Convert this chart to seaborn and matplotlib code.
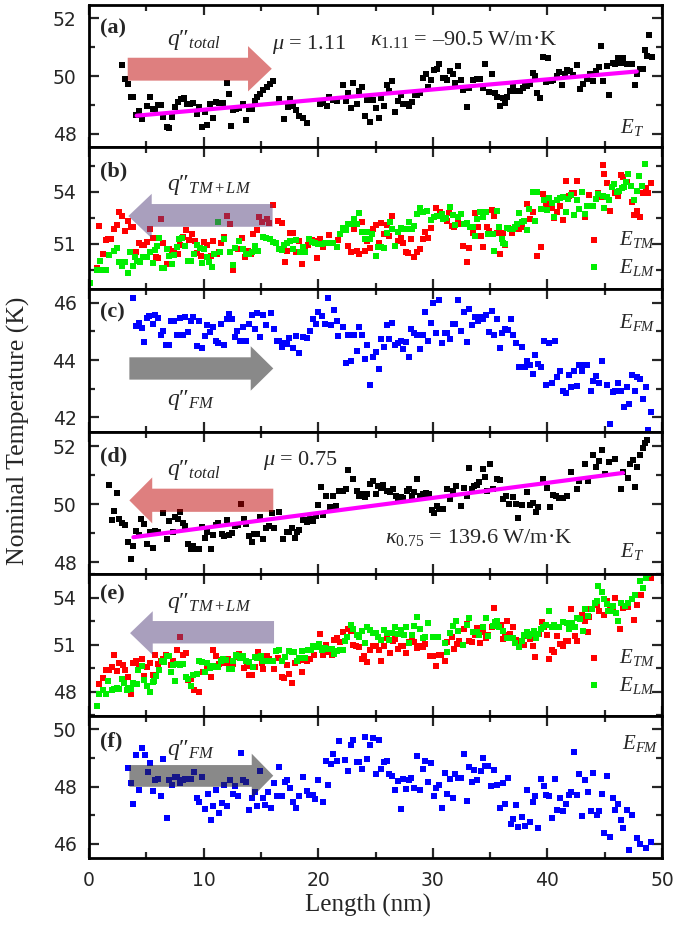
import matplotlib
matplotlib.use("Agg")
import matplotlib.pyplot as plt
from matplotlib.patches import Polygon
from matplotlib.ticker import MultipleLocator
import seaborn as sns

# ---------------------------------------------------------------- data
# (a) total energy, mu = 1.11
a_len = [2.91, 3.14, 3.40, 3.64, 3.87, 4.07, 4.33, 4.62, 5.03, 5.32, 5.56, 5.79, 6.02, 6.28, 6.49, 6.78, 7.01, 7.21, 7.48, 7.74,
         8.00, 8.29, 8.52, 8.81, 9.10, 9.39, 9.63, 9.83, 10.09, 10.33, 10.56, 10.85, 11.08, 11.37, 11.66, 12.01, 12.25, 12.42, 12.59, 12.83,
         13.06, 13.47, 13.70, 13.93, 14.19, 14.46, 14.69, 14.92, 15.21, 15.50, 15.79, 16.08, 16.61, 17.05, 17.39, 17.54, 17.77, 18.06, 18.35, 18.70,
         18.99, 20.16, 20.45, 20.74, 20.97, 21.32, 21.61,
         22.19, 22.43, 22.63, 22.83, 23.07, 23.36, 23.59, 23.79, 24.08, 24.29, 24.52, 24.75, 25.04, 25.28, 25.45, 25.74, 25.97, 26.21, 26.44, 26.70,
         26.99, 27.20, 27.43, 27.72, 27.95, 28.16, 28.45, 28.65, 28.88, 29.17, 29.38, 29.61, 29.82, 30.11, 30.34, 30.57, 30.86, 31.06, 31.27, 31.50,
         31.73, 31.97, 32.23, 32.43, 32.66, 32.96, 33.19, 33.54, 33.83, 34.12, 34.35, 34.55, 34.87, 35.14, 35.43, 35.63, 35.86, 36.10, 36.27, 36.50,
         36.74, 36.97, 37.17, 37.38, 37.61, 37.84, 38.05, 38.25, 38.48, 38.71, 38.95, 39.12, 39.35, 39.64, 39.88, 40.08, 40.28, 40.52, 40.81, 41.04,
         41.24, 41.54, 41.74, 41.97, 42.26, 42.55, 42.84, 43.14, 43.43, 43.72, 43.95, 44.24, 44.53, 44.65, 44.88, 45.17, 45.40, 45.69, 45.93, 46.16,
         46.39, 46.63, 46.92, 47.15, 47.38, 47.65, 47.79, 48.08, 48.32, 48.55, 48.72, 48.90, 49.10]
a_temp = [50.40, 49.90, 49.71, 49.29, 49.29, 48.67, 48.78, 48.52, 48.95, 49.29, 48.85, 48.85, 49.00, 49.00, 48.57, 48.23, 48.19, 48.60, 48.92, 49.10,
          49.19, 49.24, 49.04, 49.04, 49.06, 48.69, 48.92, 48.23, 48.74, 48.32, 49.02, 48.54, 49.10, 49.06, 49.06, 49.76, 49.39, 48.26, 48.81, 48.86,
          48.90, 49.04, 48.48, 48.85, 48.86, 49.15, 49.27, 49.39, 49.53, 49.62, 49.74, 49.82, 49.22, 48.52, 48.92, 49.20, 48.95, 48.81, 48.63, 48.54,
          48.36, 49.04, 49.06, 48.98, 49.29, 49.18, 49.15,
          49.68, 49.15, 49.41, 48.90, 49.76, 49.02, 49.48, 49.62, 48.63, 49.18, 48.40, 49.18, 48.90, 48.55, 49.25, 48.95, 49.68, 49.50, 49.83, 48.75,
          49.15, 49.33, 49.04, 49.02, 48.95, 49.10, 49.35, 49.36, 49.41, 49.94, 50.08, 49.62, 49.85, 50.22, 50.26, 50.41, 49.94, 49.94, 49.85, 50.18,
          50.06, 49.76, 50.34, 49.85, 49.53, 48.92, 49.60, 49.87, 49.91, 49.91, 49.60, 50.41, 49.44, 50.08, 49.41, 49.27, 48.95, 49.25, 49.07, 49.29,
          49.48, 49.64, 49.50, 49.50, 49.48, 49.60, 49.68, 49.64, 49.74, 50.11, 49.99, 49.41, 49.24, 50.66, 49.79, 50.64, 49.82, 49.87, 49.99, 50.14,
          49.68, 50.08, 50.22, 50.18, 50.03, 50.37, 49.56, 49.71, 49.91, 50.06, 49.83, 50.17, 50.32, 51.04, 49.83, 50.34, 49.36, 50.46, 50.41, 50.61,
          50.46, 50.61, 50.43, 50.43, 50.43, 49.68, 50.08, 50.26, 50.26, 50.92, 50.69, 51.42, 50.66]
fit_a_len = [4.16, 47.80]
fit_a_temp = [48.63, 50.16]

# (b) transverse / longitudinal modes, mu = 1.11
b_len_tm = [0.73, 0.90, 1.19, 1.48, 1.69, 1.92, 2.18, 2.41, 2.62, 2.85, 3.14, 3.37, 3.64, 3.87, 4.10, 4.39, 4.60, 4.80, 5.09, 5.32,
            5.56, 5.85, 6.05, 6.28, 6.49, 6.78, 7.01, 7.21, 7.45, 7.74, 7.94, 8.17, 8.46, 8.70, 8.96, 9.25, 9.45, 9.74, 10.03, 10.27,
            10.62, 10.85, 11.14, 11.37, 11.55, 11.78, 12.01, 12.30, 12.54, 12.74, 13.03, 13.32, 13.61, 13.90, 14.14, 14.34, 14.63, 14.86, 15.07, 15.50,
            15.74, 16.08, 16.52, 16.81, 17.10, 17.31, 17.54, 17.83, 18.06, 18.35, 18.56, 18.85, 19.14, 19.43, 19.72, 19.92, 20.16, 20.45, 20.97,
            21.76, 22.63, 22.83, 23.12, 23.36, 23.59, 23.79, 24.08, 24.29, 24.52, 24.75, 25.04, 25.33, 25.45, 25.74, 25.97, 26.21, 26.41, 26.70, 26.99,
            27.20, 27.37, 27.66, 27.86, 28.10, 28.36, 28.65, 28.88, 29.17, 29.32, 29.61, 29.81, 30.28, 30.63, 30.92, 31.21, 31.44, 31.65, 31.85, 32.23,
            32.37, 32.66, 32.96, 33.19, 33.48, 33.68, 33.97, 34.18, 34.41, 34.70, 34.93, 35.14, 35.34, 35.57, 35.86, 36.10, 36.30, 36.59, 36.88, 37.03,
            37.26, 37.55, 37.75, 38.19, 38.48, 38.77, 39.12, 39.41, 39.64, 39.88, 40.17, 40.37, 40.58, 40.81, 41.10, 41.33, 41.62, 41.91, 42.12, 42.32,
            42.55, 43.28, 43.66, 44.45, 44.65, 44.82, 44.94, 45.17, 45.46, 45.90, 46.19, 46.39, 46.57, 46.92, 47.35, 47.56, 47.79, 48.08, 48.31, 48.60,
            48.81, 49.01]
b_temp_tm = [49.60, 52.01, 50.39, 51.21, 51.25, 51.25, 51.82, 52.05, 52.80, 52.61, 51.72, 52.29, 51.97, 51.97, 50.53, 51.02, 50.91, 50.91, 51.10, 51.82,
             51.34, 50.20, 50.15, 52.44, 51.02, 49.83, 50.68, 50.34, 50.57, 50.39, 50.91, 51.40, 51.78, 51.21, 51.53, 51.15, 50.45, 50.26, 51.10, 50.91,
             50.26, 51.15, 50.39, 50.49, 51.02, 51.36, 52.61, 52.10, 49.45, 50.77, 50.68, 51.34, 50.20, 50.58, 50.39, 51.53, 51.78, 52.54, 52.24, 52.42,
             52.20, 53.22, 52.29, 52.20, 49.96, 50.58, 51.63, 51.59, 50.49, 51.15, 49.83, 50.64, 50.91, 51.21, 51.15, 50.15, 51.25, 50.83, 51.48,
             51.21, 50.87, 50.49, 51.86, 50.58, 50.39, 52.24, 50.58, 51.15, 50.72, 51.86, 52.05, 51.02, 52.20, 51.53, 52.05, 51.44, 52.58, 50.87, 51.15,
             51.34, 51.02, 50.49, 50.45, 51.29, 50.20, 50.53, 50.68, 51.29, 51.67, 51.34, 51.91, 53.05, 52.80, 52.42, 52.29, 52.77, 52.01, 51.97, 52.35,
             52.10, 50.87, 49.92, 50.72, 51.59, 52.77, 51.97, 51.44, 50.83, 51.97, 51.72, 52.92, 52.61, 51.59, 50.39, 51.59, 50.91, 51.91, 51.59, 51.86,
             51.86, 51.82, 51.97, 53.30, 52.39, 52.80, 50.30, 50.83, 53.87, 53.30, 53.05, 53.05, 52.48, 52.80, 53.18, 52.35, 54.63, 53.75, 53.91, 53.91,
             54.63, 52.54, 53.81, 53.91, 53.68, 55.52, 55.04, 54.51, 52.88, 53.91, 53.75, 54.95, 54.82, 54.57, 53.37, 52.67, 52.86, 52.54, 53.91, 54.19,
             53.91, 54.47]
b_len_lm = [0.09, 0.73, 0.96, 1.25, 1.48, 1.77, 2.18, 2.47, 2.65, 2.85, 3.14, 3.37, 3.58, 3.81, 4.01, 4.22, 4.45, 4.68, 4.89, 5.09,
            5.32, 5.56, 5.76, 5.90, 6.14, 6.34, 6.54, 6.78, 7.01, 7.21, 7.45, 7.65, 7.88, 8.09, 8.38, 8.67, 8.87, 9.16, 9.39, 9.69,
            9.83, 10.03, 10.33, 10.50, 10.70, 10.91, 11.29, 11.43, 11.78, 12.30, 12.54, 12.74, 13.12, 13.41, 13.70, 13.99, 14.19, 14.49, 14.78, 15.21,
            15.45, 15.79, 16.03, 16.32, 16.61, 16.81, 17.02, 17.31, 17.54, 17.83, 18.06, 18.41, 18.64, 18.85, 19.23, 19.43, 19.72, 20.01, 20.30, 20.59,
            21.03, 21.26, 21.67, 21.90, 22.19, 22.43, 22.63, 22.92, 23.12, 23.42, 23.59, 23.79, 24.08, 24.29, 24.52, 24.67, 25.04, 25.25, 25.45, 25.74,
            26.03, 26.26, 26.41, 26.70, 26.99, 27.20, 27.43, 27.66, 27.95, 28.16, 28.36, 28.65, 28.88, 29.17, 29.52, 29.81, 30.10, 30.34, 30.77, 30.92,
            31.15, 31.50, 31.73, 31.97, 32.23, 32.43, 32.72, 33.01, 33.25, 33.54, 33.68, 33.89, 34.12, 34.35, 34.64, 34.85, 35.00, 35.22, 35.34, 35.57,
            35.81, 36.01, 36.16, 36.30, 36.51, 36.74, 36.97, 37.17, 37.32, 37.55, 37.75, 37.96, 38.19, 38.42, 38.71, 38.92, 39.12, 39.41, 39.70, 39.94,
            40.17, 40.37, 40.58, 40.81, 41.10, 41.33, 41.62, 41.83, 42.03, 42.32, 42.55, 42.79, 42.99, 43.31, 43.48, 43.72, 44.01, 44.24, 44.45, 44.82,
            44.94, 45.17, 45.40, 45.61, 45.81, 46.04, 46.28, 46.48, 46.68, 46.86, 47.06, 47.27, 47.56, 47.79, 48.02, 48.25, 48.51]
b_temp_lm = [48.74, 49.45, 50.02, 49.50, 49.45, 50.34, 50.58, 50.72, 49.92, 49.73, 49.92, 49.31, 50.53, 49.69, 50.20, 50.02, 49.96, 50.20, 50.20, 50.20,
             50.49, 49.88, 50.64, 50.87, 51.34, 49.58, 49.58, 50.68, 50.30, 49.83, 50.34, 50.83, 51.25, 51.34, 50.87, 50.02, 50.02, 50.39, 50.91, 50.72,
             49.88, 50.68, 50.20, 49.92, 49.64, 50.39, 52.24, 50.49, 51.25, 50.49, 49.77, 50.77, 51.15, 50.68, 50.39, 50.39, 50.53, 50.87, 50.58, 51.40,
             51.34, 51.25, 51.10, 51.02, 50.68, 50.64, 50.91, 51.02, 51.15, 50.68, 51.21, 50.49, 50.83, 50.49, 51.29, 51.10, 51.02, 50.96, 50.96, 51.06,
             51.02, 51.06, 50.83, 51.53, 51.91, 51.78, 52.10, 52.10, 52.42, 52.10, 52.77, 51.67, 51.29, 51.67, 51.29, 51.53, 50.30, 50.83, 50.83, 50.72,
             51.59, 52.24, 51.86, 50.87, 51.67, 51.91, 51.86, 51.86, 52.24, 51.86, 52.01, 52.73, 53.05, 52.80, 52.86, 52.35, 52.54, 52.61, 52.73, 52.42,
             52.48, 53.11, 52.67, 52.05, 52.54, 52.73, 52.10, 52.20, 51.97, 51.97, 51.44, 52.39, 52.80, 52.54, 52.80, 51.57, 51.53, 51.53, 50.58, 52.86,
             51.97, 51.29, 51.06, 50.96, 51.91, 51.82, 51.86, 51.97, 52.10, 52.77, 52.24, 52.29, 51.78, 52.99, 53.96, 52.29, 53.96, 52.99, 53.49, 52.96,
             53.62, 53.34, 52.54, 53.53, 53.62, 53.68, 52.80, 53.56, 53.81, 52.67, 53.49, 52.99, 53.96, 52.73, 53.15, 53.18, 53.15, 53.56, 53.87, 53.75,
             53.05, 53.68, 53.53, 54.28, 54.44, 54.00, 54.06, 54.19, 54.25, 54.57, 55.01, 54.32, 53.53, 54.06, 54.89, 54.34, 55.61]

# (c) flexural mode, mu = 1.11
c_len = [3.87, 4.07, 4.33, 4.62, 4.80, 5.03, 5.26, 5.56, 5.79, 6.02, 6.25, 6.49, 6.72, 6.95, 7.18, 7.42, 7.65, 7.94, 8.17, 8.38,
         8.67, 8.87, 9.10, 9.39, 9.63, 9.83, 10.09, 10.33, 10.56, 10.85, 11.08, 11.29, 11.55, 11.78, 12.01, 12.25, 12.45, 12.74, 12.94, 13.18,
         13.41, 13.70, 13.99, 14.19, 14.49, 14.69, 14.92, 15.21, 15.45, 15.85, 16.14, 16.38, 16.61, 16.84, 17.02, 17.25, 17.48, 17.77, 18.06, 18.35,
         18.70, 18.99, 19.28, 19.58, 19.81, 20.01, 20.30, 20.59, 20.88, 21.09, 21.38, 21.76,
         21.61, 22.13, 22.43, 22.63, 22.83, 23.12, 23.36, 23.59, 23.79, 24.08, 24.29, 24.52, 24.75, 25.04, 25.28, 25.45, 25.74, 25.97, 26.21, 26.44,
         26.70, 26.99, 27.20, 27.43, 27.66, 27.89, 28.10, 28.36, 28.59, 28.88, 29.11, 29.32, 29.58, 29.81, 30.04, 30.28, 30.51, 30.80, 31.03, 31.27,
         31.50, 31.73, 31.97, 32.20, 32.43, 32.72, 32.96, 33.19, 33.42, 33.65, 33.94, 34.18, 34.41, 34.64, 34.87, 35.13, 35.34, 35.57, 35.86, 36.04,
         36.27, 36.56, 36.80, 37.03, 37.26, 37.49, 37.75, 38.01, 38.25, 38.48, 38.71, 38.95, 39.18, 39.41, 39.70, 39.88, 40.14, 40.40, 40.64, 40.87,
         41.10, 41.33, 41.62, 41.86, 42.09, 42.32, 42.55, 42.79, 43.02, 43.25, 43.48, 43.78, 44.01, 44.21, 44.50, 44.74, 45.20, 45.46, 45.70, 45.90,
         46.16, 46.42, 46.69, 46.92, 47.12, 47.38, 47.61, 47.85, 48.08, 48.31, 48.60, 48.81, 49.04]
c_temp = [46.17, 45.18, 45.30, 45.13, 44.64, 45.48, 45.53, 45.27, 45.57, 45.48, 44.87, 45.01, 44.54, 44.51, 45.38, 45.38, 44.89, 45.48, 44.87, 45.50,
          44.97, 45.36, 45.50, 44.48, 45.36, 44.43, 44.83, 45.24, 44.99, 45.15, 44.66, 44.60, 45.27, 44.52, 45.42, 45.62, 45.42, 44.80, 45.01, 44.68,
          45.15, 44.68, 45.27, 45.57, 45.09, 45.65, 44.80, 45.57, 45.24, 45.65, 45.10, 44.68, 44.68, 44.45, 44.60, 44.57, 44.78, 44.43, 44.83, 44.25,
          44.80, 44.78, 45.01, 45.42, 45.27, 45.69, 45.55, 45.27, 46.15, 45.22, 45.74, 44.83,
          45.38, 45.15, 43.89, 44.89, 43.96, 44.89, 44.31, 45.15, 44.89, 44.02, 44.54, 43.14, 44.10, 44.28, 43.69, 44.72, 44.45, 45.24, 44.75, 45.29,
          44.54, 44.60, 44.66, 44.37, 44.64, 44.10, 45.07, 44.93, 44.86, 44.40, 44.89, 45.67, 44.66, 45.29, 45.98, 44.94, 46.09, 44.58, 44.94, 44.94,
          44.73, 45.25, 45.25, 46.09, 45.01, 45.67, 44.62, 45.80, 45.22, 45.50, 45.36, 45.52, 45.43, 45.57, 44.97, 45.71, 44.89, 45.45, 44.41, 44.94,
          45.08, 45.06, 45.45, 44.89, 44.58, 43.77, 44.47, 43.77, 43.96, 43.84, 43.51, 44.17, 43.87, 43.75, 44.66, 43.12, 44.61, 43.21, 44.66, 43.40,
          43.61, 42.91, 42.86, 43.47, 43.05, 43.61, 43.09, 43.82, 43.61, 43.82, 43.82, 42.93, 43.26, 43.44, 43.19, 43.98, 43.14, 41.75, 42.89, 42.93,
          43.18, 42.93, 42.35, 43.05, 42.45, 43.47, 42.91, 43.40, 43.32, 42.63, 43.05, 41.57, 42.19]

# (d) total energy, mu = 0.75
d_len = [1.75, 1.98, 2.18, 2.41, 2.65, 2.88, 3.14, 3.37, 3.64, 3.87, 4.10, 4.33, 4.57, 4.80, 5.09, 5.32, 5.56, 5.79, 6.02, 6.49,
         6.78, 7.01, 7.30, 7.53, 7.77, 7.94, 8.17, 8.41, 8.64, 8.87, 9.10, 9.39, 9.63, 9.86, 10.09, 10.33, 10.62, 10.85, 11.08, 11.29,
         11.58, 11.78, 12.01, 12.25, 12.48, 12.77, 13.00, 13.23, 13.53, 13.70, 13.93, 14.19, 14.40, 14.63, 14.92, 15.15, 15.45, 15.68, 15.94, 16.14,
         16.61, 16.96, 17.25, 17.48, 17.71, 17.98, 18.12, 18.35, 18.64, 18.85, 19.05, 19.28, 19.52, 19.81, 20.01, 20.22, 20.45, 20.68, 21.03, 21.32,
         21.55, 21.84,
         22.19, 22.43, 22.63, 23.07, 23.36, 23.59, 23.79, 24.08, 24.29, 24.52, 24.75, 25.04, 25.25, 25.45, 25.68, 25.97, 26.26, 26.50, 26.79, 26.99,
         27.20, 27.43, 27.72, 27.95, 28.16, 28.36, 28.59, 28.88, 29.17, 29.41, 29.64, 29.93, 30.10, 30.34, 30.57, 30.86, 31.21, 31.50, 31.73, 32.02,
         32.43, 32.72, 32.96, 33.19, 33.39, 33.60, 33.83, 34.06, 34.35, 34.52, 34.76, 34.99, 35.28, 35.57, 35.86, 36.15, 36.39, 36.68, 37.03, 37.26,
         37.46, 37.75, 38.19, 38.48, 38.71, 39.00, 39.21, 39.64, 39.94, 40.23, 40.52, 40.75, 41.04, 41.39, 41.68, 42.03, 42.55, 42.79, 43.28, 43.57,
         44.01, 44.24, 44.53, 44.74, 45.03, 45.41, 45.90, 46.39, 46.63, 47.06, 47.21, 47.44, 47.64, 47.79, 48.08, 48.31, 48.51, 48.72]
d_temp = [50.67, 49.45, 49.77, 50.39, 49.50, 49.34, 49.27, 48.71, 48.09, 48.56, 49.07, 48.95, 49.50, 49.30, 48.63, 49.03, 48.48, 49.07, 49.03, 49.69,
          48.80, 49.42, 49.03, 49.57, 49.48, 49.73, 49.36, 49.24, 48.63, 48.44, 48.56, 48.44, 48.44, 49.22, 48.83, 49.03, 48.44, 48.95, 49.27, 49.34,
          48.98, 48.91, 49.45, 48.95, 49.01, 49.24, 49.27, 49.99, 49.50, 49.30, 48.89, 48.71, 48.98, 48.98, 49.57, 48.80, 49.18, 49.24, 49.69, 49.18,
          49.73, 48.80, 49.03, 49.03, 49.18, 48.83, 49.03, 49.10, 49.45, 49.45, 49.38, 49.48, 49.42, 49.59, 49.97, 50.59, 49.62, 50.27, 49.92, 50.30,
          49.95, 50.47,
          50.44, 50.51, 51.18, 50.88, 50.47, 50.30, 50.36, 50.24, 50.36, 50.71, 50.79, 50.36, 50.63, 50.56, 50.65, 50.47, 50.42, 50.51, 50.27, 50.20,
          50.24, 50.20, 50.47, 50.53, 50.27, 50.42, 50.88, 50.30, 50.36, 50.39, 50.36, 49.81, 49.69, 49.95, 49.83, 49.83, 50.51, 50.18, 50.47, 50.63,
          49.95, 50.56, 50.27, 51.24, 50.53, 50.63, 50.67, 50.77, 51.21, 50.94, 50.47, 51.38, 50.53, 50.88, 50.83, 50.18, 50.27, 50.00, 50.24, 50.00,
          49.54, 49.97, 50.42, 49.97, 50.04, 49.73, 49.89, 50.86, 50.56, 49.89, 50.32, 50.27, 50.20, 50.20, 50.27, 51.10, 50.53, 50.79, 51.38, 50.79,
          51.71, 51.30, 51.50, 51.88, 51.03, 51.45, 51.57, 50.51, 51.12, 50.91, 51.38, 51.53, 50.59, 51.30, 51.71, 51.94, 52.12, 52.23]
fit_d_len = [3.87, 46.60]
fit_d_temp = [48.86, 51.08]

# (e) transverse / longitudinal modes, mu = 0.75
e_len_tm = [0.90, 1.19, 1.48, 1.77, 1.98, 2.18, 2.41, 2.65, 2.94, 3.14, 3.43, 3.64, 3.87, 4.10, 4.39, 4.60, 4.80, 5.03, 5.32, 5.56,
            5.76, 6.05, 6.25, 6.49, 6.72, 6.95, 7.13, 7.36, 7.65, 7.94, 8.17, 8.46, 8.67, 8.90, 9.16, 9.63, 9.98, 10.33, 10.62, 10.79,
            11.08, 11.37, 11.58, 11.87, 12.16, 12.39, 12.59, 12.89, 13.12, 13.32, 13.53, 13.76, 13.99, 14.19, 14.49, 14.78, 15.07, 15.21, 15.50, 15.74,
            15.94, 16.14, 16.52, 16.81, 17.02, 17.25, 17.48, 17.68, 17.98, 18.27, 18.56, 18.76, 19.05, 19.28, 19.63, 19.87, 20.16, 20.39, 20.68, 20.97,
            21.18, 21.38, 21.67, 21.90, 22.19, 22.63, 22.83, 23.07, 23.30, 23.59, 23.79, 24.00, 24.23, 24.52, 24.75, 25.04, 25.33, 25.45, 25.74, 26.03,
            26.26, 26.50, 26.70, 26.99, 27.20, 27.43, 27.66, 27.95, 28.16, 28.36, 28.65, 28.88, 29.11, 29.32, 29.76, 29.99, 30.28, 30.51, 30.69, 31.06,
            31.27, 31.65, 31.85, 32.08, 32.32, 32.61, 32.72, 32.96, 33.19, 33.39, 33.68, 33.89, 34.12, 34.35, 34.64, 34.85, 35.14, 35.34, 35.57, 35.92,
            36.16, 36.30, 36.51, 36.74, 37.03, 37.26, 37.46, 37.75, 37.96, 38.19, 38.48, 38.77, 38.92, 39.30, 39.50, 39.70, 39.94, 40.11, 40.37, 40.58,
            40.87, 41.10, 41.33, 41.62, 41.83, 42.03, 42.41, 42.61, 42.99, 43.28, 43.51, 43.66, 43.83, 44.30, 44.53, 44.94, 45.17, 45.46, 45.75, 45.90,
            46.33, 46.63, 47.06, 47.56, 47.79, 48.14, 48.60, 49.01]
e_temp_tm = [48.46, 48.88, 49.35, 49.39, 49.56, 50.36, 49.31, 49.81, 49.67, 49.35, 48.93, 47.87, 49.81, 49.94, 49.60, 50.09, 48.97, 49.56, 49.81, 49.03,
             50.36, 49.77, 49.98, 50.09, 50.36, 50.24, 49.67, 49.98, 50.62, 51.46, 50.36, 50.45, 48.76, 48.82, 48.08, 47.97, 49.24, 49.52, 48.93, 50.62,
             50.30, 49.77, 50.03, 49.81, 50.09, 49.81, 49.73, 50.19, 50.41, 50.19, 49.52, 49.60, 49.03, 49.03, 49.56, 50.51, 49.81, 49.45, 50.30, 50.09,
             49.94, 49.45, 50.15, 48.93, 48.88, 49.67, 49.10, 48.55, 49.81, 49.98, 49.24, 50.03, 49.94, 50.09, 50.36, 50.93, 51.67, 50.36, 51.00, 50.51,
             50.36, 51.29, 51.42, 51.15, 51.78, 51.99, 51.89, 51.00, 50.93, 50.83, 50.09, 50.30, 49.88, 50.66, 50.93, 50.93, 50.66, 49.94, 50.93, 51.42,
             50.45, 51.25, 51.36, 50.72, 50.93, 50.93, 50.45, 51.15, 51.29, 51.19, 50.79, 50.93, 50.87, 51.04, 50.30, 50.30, 49.60, 50.36, 50.36, 49.98,
             51.15, 51.51, 50.72, 51.04, 51.21, 51.00, 51.99, 52.31, 51.21, 51.15, 51.63, 52.05, 51.08, 51.78, 51.42, 51.63, 52.14, 53.32, 52.20, 52.27,
             51.36, 51.63, 52.48, 51.67, 52.10, 51.29, 51.15, 51.21, 51.00, 51.57, 51.36, 50.93, 50.19, 51.67, 52.41, 52.10, 51.63, 50.09, 50.66, 50.51,
             51.57, 51.04, 50.93, 51.21, 51.21, 53.26, 51.57, 51.21, 52.90, 52.52, 51.78, 52.73, 53.26, 53.53, 53.15, 52.90, 53.79, 53.20, 53.41, 53.96,
             51.99, 53.32, 53.37, 52.56, 53.53, 54.17, 55.31, 55.27]
e_len_lm = [0.73, 0.90, 1.19, 1.48, 1.69, 1.98, 2.18, 2.41, 2.65, 2.85, 3.05, 3.29, 3.43, 3.64, 3.87, 4.16, 4.30, 4.60, 4.80, 5.03,
            5.32, 5.56, 5.67, 5.85, 6.14, 6.34, 6.54, 6.78, 6.95, 7.13, 7.36, 7.50, 7.71, 7.94, 8.17, 8.46, 8.67, 8.87, 9.10, 9.39,
            9.63, 9.83, 10.12, 10.33, 10.56, 10.79, 11.08, 11.29, 11.49, 11.72, 11.95, 12.25, 12.45, 12.59, 12.83, 13.03, 13.18, 13.47, 13.70, 13.99,
            14.28, 14.49, 14.69, 14.98, 15.21, 15.45, 15.74, 16.03, 16.32, 16.55, 16.81, 17.10, 17.48, 17.68, 17.89, 18.12, 18.35, 18.59, 18.85, 19.14,
            19.34, 19.58, 19.81, 20.10, 20.30, 20.59, 20.88,
            21.18, 21.38, 21.61, 21.90, 22.19, 22.34, 22.54, 22.83, 23.07, 23.36, 23.59, 23.79, 24.08, 24.29, 24.52, 24.81, 25.04, 25.25, 25.45, 25.74,
            26.03, 26.21, 26.41, 26.70, 26.99, 27.20, 27.49, 27.66, 27.95, 28.16, 28.36, 28.65, 28.88, 29.17, 29.32, 29.61, 29.99, 30.28, 30.48, 31.06,
            31.21, 31.50, 31.73, 32.02, 32.23, 32.66, 32.96, 33.19, 33.54, 33.83, 34.06, 34.35, 34.64, 34.85, 35.22, 35.43, 35.63, 35.81, 36.16, 36.45,
            36.68, 36.97, 37.17, 37.55, 37.75, 37.96, 38.19, 38.42, 38.63, 38.83, 39.00, 39.21, 39.41, 39.64, 39.88, 40.11, 40.37, 40.58, 40.81, 41.04,
            41.33, 41.68, 41.91, 42.12, 42.41, 42.55, 42.84, 43.08, 43.28, 43.57, 43.86, 44.15, 44.30, 44.45, 44.74, 44.94, 45.17, 45.32, 45.52, 45.75,
            45.99, 46.19, 46.39, 46.77, 47.06, 47.35, 47.64, 48.08, 48.37, 48.60, 48.81]
e_temp_lm = [47.07, 47.83, 48.08, 47.83, 48.67, 48.12, 48.19, 48.25, 48.19, 48.82, 48.55, 48.12, 48.25, 48.19, 48.55, 48.46, 49.39, 49.60, 48.71, 48.33,
             47.97, 48.61, 48.67, 48.97, 49.39, 49.98, 49.88, 50.30, 50.24, 49.24, 49.67, 48.67, 49.77, 49.67, 49.73, 48.93, 48.82, 48.33, 49.03, 49.10,
             49.94, 49.88, 49.24, 49.81, 49.52, 49.60, 49.56, 49.56, 49.94, 50.09, 50.03, 49.45, 49.45, 49.98, 50.36, 50.24, 50.15, 50.30, 49.98, 49.88,
             49.56, 50.19, 50.15, 50.30, 49.98, 49.98, 49.94, 49.98, 50.58, 50.66, 49.98, 50.19, 50.58, 50.51, 50.51, 49.94, 50.15, 50.58, 50.15, 50.66,
             50.62, 50.93, 50.87, 51.04, 50.66, 50.79, 50.72,
             50.72, 50.41, 50.58, 50.66, 50.66, 51.25, 51.51, 52.27, 51.99, 51.63, 51.51, 51.89, 51.08, 52.14, 51.93, 51.72, 51.72, 51.51, 51.29, 51.93,
             51.72, 51.29, 51.72, 52.14, 51.67, 51.93, 51.63, 52.14, 51.08, 51.63, 52.20, 52.77, 51.99, 51.42, 51.51, 52.35, 51.51, 51.51, 51.51, 51.08,
             50.51, 51.72, 52.20, 52.48, 51.89, 51.00, 52.27, 52.69, 51.78, 51.78, 51.63, 52.14, 52.69, 51.57, 52.20, 52.41, 52.52, 52.14, 51.84, 51.42,
             51.42, 51.42, 51.08, 50.87, 51.21, 51.63, 51.78, 51.57, 51.67, 51.89, 51.42, 51.67, 51.99, 52.14, 52.27, 53.15, 52.10, 52.27, 52.14, 52.14,
             52.41, 52.35, 51.99, 52.35, 52.14, 52.69, 52.63, 51.84, 53.26, 52.84, 53.26, 53.62, 53.75, 54.74, 54.32, 53.89, 53.58, 53.11, 53.15, 53.47,
             52.99, 52.48, 53.68, 53.47, 53.62, 53.89, 54.17, 55.06, 54.59, 55.23, 55.48]

# (f) flexural mode, mu = 0.75
f_len = [3.40, 3.66, 3.87, 4.10, 4.39, 4.62, 4.86, 5.12, 5.32, 5.56, 5.79, 6.02, 6.25, 6.49, 6.78, 6.98, 7.24, 7.48, 7.71, 7.94,
         8.17, 8.41, 8.64, 8.93, 9.16, 9.39, 9.63, 9.86, 10.15, 10.38, 10.62, 10.85, 11.08, 11.37, 11.61, 11.78, 12.01, 12.30, 12.54, 12.77,
         13.00, 13.23, 13.47, 13.70, 13.99, 14.22, 14.46, 14.69, 14.92, 15.15, 15.39, 15.62, 15.85, 16.14, 16.38, 16.61, 16.84, 17.07, 17.31, 17.54,
         17.77, 18.06, 18.32, 18.70, 18.99, 19.23, 19.52, 19.72, 19.95, 20.39, 20.68, 20.88, 21.09, 21.32, 21.61, 21.84,
         22.34, 22.63, 22.83, 23.07, 23.36, 23.59, 23.79, 24.05, 24.23, 24.52, 24.75, 25.04, 25.28, 25.48, 25.74, 25.97, 26.21, 26.44, 26.70, 26.96,
         27.20, 27.43, 27.66, 27.89, 28.13, 28.36, 28.59, 28.88, 29.11, 29.32, 29.58, 29.81, 30.10, 30.28, 30.57, 30.80, 31.03, 31.27, 31.50, 31.73,
         31.97, 32.20, 32.43, 32.72, 32.96, 33.13, 33.42, 33.60, 33.89, 34.18, 34.35, 34.58, 34.82, 35.11, 35.34, 35.57, 35.86, 36.10, 36.33, 36.56,
         36.80, 36.97, 37.26, 37.46, 37.75, 38.01, 38.25, 38.48, 38.71, 38.95, 39.18, 39.41, 39.70, 39.88, 40.11, 40.40, 40.64, 40.84, 41.10, 41.39,
         41.62, 41.86, 42.09, 42.32, 42.55, 42.79, 43.02, 43.28, 43.51, 43.78, 44.01, 44.30, 44.53, 44.77, 44.94, 45.17, 45.46, 45.70, 45.90, 46.16,
         46.39, 46.63, 46.92, 47.12, 47.38, 47.85, 48.08, 48.60, 49.01]
f_temp = [48.64, 48.11, 47.38, 49.10, 47.87, 49.35, 49.09, 48.50, 48.83, 47.84, 48.22, 48.27, 47.68, 48.97, 46.90, 48.22, 48.06, 48.34, 48.34, 48.11,
          48.22, 48.27, 48.27, 48.27, 48.50, 47.61, 47.47, 48.34, 47.22, 47.75, 46.82, 47.33, 47.87, 47.08, 47.43, 48.06, 47.31, 48.22, 47.75, 48.01,
          47.66, 49.18, 48.22, 48.15, 47.17, 47.61, 47.80, 47.31, 48.53, 47.61, 47.36, 47.82, 47.26, 48.13, 47.68, 48.69, 47.66, 48.15, 48.22, 47.96,
          47.47, 47.24, 47.68, 48.32, 47.84, 47.71, 47.71, 47.57, 48.22, 47.45, 48.88, 48.04, 48.78, 49.13, 48.88, 49.59,
          48.92, 48.54, 49.44, 49.63, 48.85, 48.85, 48.60, 49.73, 48.97, 49.45, 49.70, 48.43, 49.63, 48.60, 48.85, 48.89, 48.43, 48.36, 47.87, 48.19,
          47.22, 48.25, 47.92, 48.22, 48.29, 47.94, 49.06, 47.87, 48.60, 48.90, 48.15, 48.83, 47.66, 47.94, 48.04, 47.24, 48.48, 47.73, 48.25, 47.61,
          48.43, 48.30, 48.30, 49.13, 47.50, 48.69, 48.15, 48.57, 48.22, 48.54, 48.99, 48.71, 48.71, 48.01, 48.57, 48.04, 47.24, 48.11, 47.40, 48.30,
          46.68, 46.87, 47.35, 46.58, 46.92, 46.63, 47.89, 46.75, 47.45, 47.66, 46.54, 48.25, 48.01, 47.71, 47.66, 46.89, 48.27, 47.17, 47.59, 47.13,
          47.40, 47.71, 47.82, 49.20, 47.71, 48.43, 46.98, 48.22, 47.82, 47.15, 48.48, 47.02, 47.13, 47.73, 46.37, 48.36, 46.23, 47.59, 47.19, 47.40,
          46.82, 46.54, 47.17, 45.77, 47.02, 46.19, 45.98, 45.84, 46.07]

# ---------------------------------------------------------------- style
sns.set_style("ticks")
SERIF = ["Liberation Serif", "DejaVu Serif"]
plt.rcParams.update({
    "font.family": ["DejaVu Sans"],
    "mathtext.fontset": "custom",
    "mathtext.rm": "Liberation Serif",
    "mathtext.it": "Liberation Serif:italic",
    "mathtext.bf": "Liberation Serif:bold",
    "axes.linewidth": 2.0,
    "axes.edgecolor": "black",
})

BLACK, RED, GREEN, BLUE, MAGENTA = "#000000", "#ff0000", "#00ee00", "#0000ff", "#ff00ff"
ARROW_RED = (0.75, 0.0, 0.0, 0.5)
ARROW_LILAC = (0.33, 0.25, 0.49, 0.5)
ARROW_GREY = (0.16, 0.16, 0.16, 0.55)
MS = 15

fig, axes = plt.subplots(6, 1, figsize=(6.75, 9.26), dpi=100, sharex=True,
                         gridspec_kw={"hspace": 0})
fig.subplots_adjust(left=0.1319, right=0.9807, top=0.9946, bottom=0.0734)
ax_a, ax_b, ax_c, ax_d, ax_e, ax_f = axes


def dots(ax, x, y, color, label=None):
    sns.scatterplot(x=x, y=y, ax=ax, color=color, marker="s", s=MS,
                    linewidth=0, zorder=2, label=label, legend=False)


def block_arrow(ax, tail, base, tip, body, head, color):
    y0, y1 = body
    h0, h1 = head
    ym = 0.5 * (h0 + h1)
    verts = [(tail, y0), (base, y0), (base, h0), (tip, ym),
             (base, h1), (base, y1), (tail, y1)]
    ax.add_patch(Polygon(verts, closed=True, transform=ax.transAxes,
                         facecolor=color, edgecolor="none", zorder=3))


def note(ax, x, y, s, size=16, **kw):
    ax.text(x, y, s, transform=ax.transAxes, fontsize=size,
            family=SERIF, va="baseline", ha="left", zorder=4, **kw)


# ---------------------------------------------------------------- panels
dots(ax_a, a_len, a_temp, BLACK)
sns.lineplot(x=fit_a_len, y=fit_a_temp, ax=ax_a, color=MAGENTA, lw=3, zorder=2.5)

dots(ax_b, b_len_tm, b_temp_tm, RED, r"$E_{TM}$")
dots(ax_b, b_len_lm, b_temp_lm, GREEN, r"$E_{LM}$")

dots(ax_c, c_len, c_temp, BLUE)

dots(ax_d, d_len, d_temp, BLACK)
sns.lineplot(x=fit_d_len, y=fit_d_temp, ax=ax_d, color=MAGENTA, lw=3, zorder=2.5)

dots(ax_e, e_len_tm, e_temp_tm, RED, r"$E_{TM}$")
dots(ax_e, e_len_lm, e_temp_lm, GREEN, r"$E_{LM}$")

dots(ax_f, f_len, f_temp, BLUE)

limits = [(47.54, 52.46), (48.36, 56.56), (41.5, 46.47),
          (47.6, 52.51), (46.45, 55.52), (45.5, 50.47)]
steps = [(2, 1), (3, 1.5), (2, 1), (2, 1), (3, 1.5), (2, 1)]
tags = ["(a)", "(b)", "(c)", "(d)", "(e)", "(f)"]
tag_y = [0.837, 0.826, 0.836, 0.825, 0.856, 0.823]

for ax, lim, (major, minor), tag, ty in zip(axes, limits, steps, tags, tag_y):
    ax.set_xlim(0, 50)
    ax.set_ylim(*lim)
    ax.xaxis.set_major_locator(MultipleLocator(10))
    ax.xaxis.set_minor_locator(MultipleLocator(5))
    ax.yaxis.set_major_locator(MultipleLocator(major))
    ax.yaxis.set_minor_locator(MultipleLocator(minor))
    ax.tick_params(which="both", direction="in", top=True, right=True,
                   width=1.6, labelsize=13.5, pad=9)
    ax.tick_params(which="major", length=7)
    ax.tick_params(which="minor", length=4)
    ax.set_xlabel("")
    ax.set_ylabel("")
    for sp in ax.spines.values():
        sp.set_linewidth(2.0)
    ax.text(0.019, ty, tag, transform=ax.transAxes, fontsize=16,
            fontweight="bold", family=SERIF, va="center", ha="left")

# heat-flux arrows
block_arrow(ax_a, 0.0675, 0.2775, 0.319, (0.468, 0.629), (0.392, 0.711), ARROW_RED)
block_arrow(ax_b, 0.3204, 0.1094, 0.0686, (0.44, 0.60), (0.359, 0.672), ARROW_LILAC)
block_arrow(ax_c, 0.0704, 0.2822, 0.3216, (0.365, 0.522), (0.287, 0.60), ARROW_GREY)
block_arrow(ax_d, 0.3216, 0.1103, 0.0704, (0.435, 0.598), (0.354, 0.677), ARROW_RED)
block_arrow(ax_e, 0.3229, 0.1112, 0.0716, (0.509, 0.667), (0.428, 0.736), ARROW_LILAC)
block_arrow(ax_f, 0.0704, 0.284, 0.3216, (0.501, 0.654), (0.424, 0.734), ARROW_GREY)

# annotations
note(ax_a, 0.1355, 0.716, r"$q″_{total}$", size=17)
note(ax_a, 0.3188, 0.693, r"$\mu$ = 1.11")
note(ax_a, 0.4904, 0.716, r"$\kappa_{1.11}$ = –90.5 W/m·K")
note(ax_a, 0.9267, 0.101, r"$E_{T}$", size=15)

note(ax_b, 0.1355, 0.699, r"$q″_{TM+LM}$", size=17)

note(ax_c, 0.1355, 0.1835, r"$q″_{FM}$", size=17)
note(ax_c, 0.9255, 0.725, r"$E_{FM}$", size=15)

note(ax_d, 0.1355, 0.694, r"$q″_{total}$", size=17)
note(ax_d, 0.3042, 0.765, r"$\mu$ = 0.75")
note(ax_d, 0.5166, 0.215, r"$\kappa_{0.75}$ = 139.6 W/m·K")
note(ax_d, 0.9267, 0.12, r"$E_{T}$", size=15)

note(ax_e, 0.1355, 0.759, r"$q″_{TM+LM}$", size=17)

note(ax_f, 0.1355, 0.722, r"$q″_{FM}$", size=17)
note(ax_f, 0.9296, 0.765, r"$E_{FM}$", size=15)

# mode legends
for ax, yc in ((ax_b, 0.252), (ax_e, 0.312)):
    ax.legend(loc="center left", bbox_to_anchor=(0.8704, yc), frameon=False,
              handlelength=0.6, handletextpad=0.9, labelspacing=0.3,
              borderpad=0, borderaxespad=0, markerscale=1.0,
              prop={"family": SERIF, "size": 15})

# axis titles
ax_f.set_xlabel("Length (nm)", fontsize=18, family=SERIF)
ax_f.xaxis.set_label_coords(0.487, -0.255)
ax_f.xaxis.label.set_va("top")
fig.text(0.027, 0.5346, "Nominal Temperature (K)", rotation=90,
         ha="center", va="center", fontsize=18.5, family=SERIF)

fig.savefig("out.png", dpi=100)
